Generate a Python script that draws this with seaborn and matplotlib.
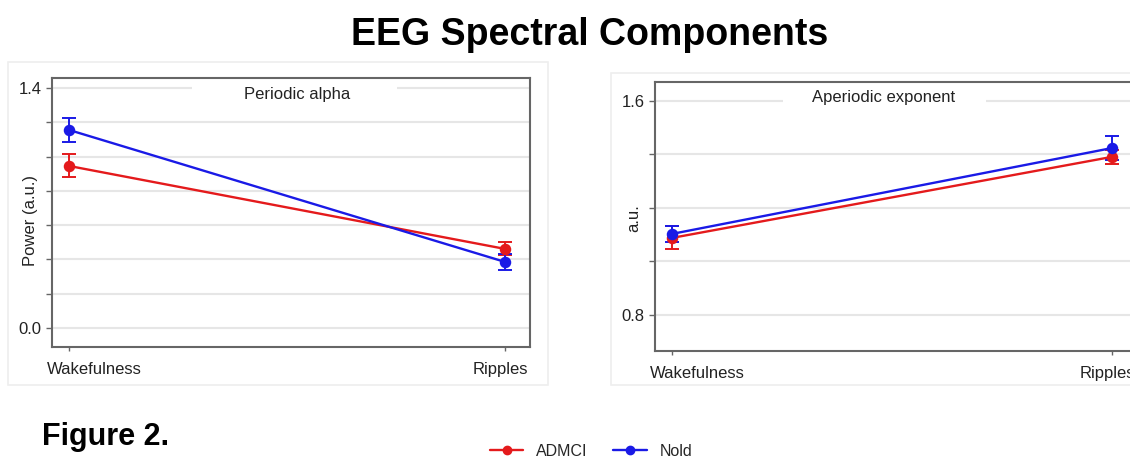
import matplotlib
matplotlib.use("Agg")
import matplotlib.pyplot as plt
import matplotlib.transforms as mtransforms
from matplotlib.lines import Line2D
from matplotlib.patches import Rectangle
import pandas as pd
import seaborn as sns

states = ["Wakefulness", "Ripples"]
groups = ["ADMCI", "Nold"]
colors = {"ADMCI": "#e41a1c", "Nold": "#1a1ae6"}

# periodic alpha power (a.u.), mean and error per state
alpha_admci = [0.945, 0.461]
alpha_admci_err = [0.067, 0.038]
alpha_nold = [1.155, 0.385]
alpha_nold_err = [0.070, 0.044]

# aperiodic exponent (a.u.)
aper_admci = [1.088, 1.391]
aper_admci_err = [0.043, 0.026]
aper_nold = [1.103, 1.424]
aper_nold_err = [0.030, 0.045]


def long_table(admci, nold):
    rows = []
    for g, vals in [("ADMCI", admci), ("Nold", nold)]:
        for s, v in zip(states, vals):
            rows.append({"state": s, "group": g, "value": v})
    return pd.DataFrame(rows)


sns.set_theme(style="white")
plt.rcParams["font.family"] = ["Liberation Sans", "DejaVu Sans"]

fig = plt.figure(figsize=(11.3, 4.62), dpi=100)
W, H = 1130, 462

# faint panel backgrounds
for x0, y0, x1, y1 in [(8, 62, 548, 385), (611, 73, 1140, 385)]:
    fig.patches.append(Rectangle((x0 / W, 1 - y1 / H), (x1 - x0) / W, (y1 - y0) / H,
                                 transform=fig.transFigure, facecolor="white",
                                 edgecolor="#eeeeee", lw=1.2, zorder=-1))

ax1 = fig.add_axes([52 / W, 1 - 347 / H, (530 - 52) / W, (347 - 78) / H])
ax2 = fig.add_axes([655 / W, 1 - 351 / H, (1137 - 655) / W, (351 - 82) / H])

panels = [
    (ax1, long_table(alpha_admci, alpha_nold), alpha_admci_err, alpha_nold_err,
     "Periodic alpha", "Power (a.u.)", (-0.111, 1.458), [0, 0.2, 0.4, 0.6, 0.8, 1.0, 1.2, 1.4],
     {0.0: "0.0", 1.4: "1.4"}, 0.512, (0.293, 0.722), 0.937, 0.472),
    (ax2, long_table(aper_admci, aper_nold), aper_admci_err, aper_nold_err,
     "Aperiodic exponent", "a.u.", (0.665, 1.671), [0.8, 1.0, 1.2, 1.4, 1.6],
     {0.8: "0.8", 1.6: "1.6"}, 0.475, (0.266, 0.687), 0.944, 0.494),
]

for ax, df, err_a, err_n, title, ylabel, ylim, yticks, ylabels, tx, gap, ty, ly in panels:
    ax.set_zorder(2)
    sns.pointplot(data=df, x="state", y="value", hue="group", order=states,
                  hue_order=groups, palette=colors, errorbar=None, markers="o",
                  markersize=7, linewidth=1.7, legend=False, ax=ax, zorder=3)
    for g, e in [("ADMCI", err_a), ("Nold", err_n)]:
        vals = df[df["group"] == g]["value"].values
        ax.errorbar(x=range(len(states)), y=vals, yerr=e, fmt="none",
                    ecolor=colors[g], elinewidth=1.4, capsize=5, capthick=1.4, zorder=2)

    ax.set_xlim(-0.039, 1.057)
    ax.set_ylim(*ylim)
    ax.set_yticks(yticks)
    ax.set_yticklabels([ylabels.get(round(t, 1), "") for t in yticks])
    ax.set_axisbelow(True)
    ax.yaxis.grid(True, color="#e6e6e6", lw=1.5)
    ax.xaxis.grid(False)
    for sp in ax.spines.values():
        sp.set_color("#666666")
        sp.set_linewidth(1.5)
    ax.tick_params(axis="both", which="both", direction="out", length=4, width=1,
                   color="#666666", labelsize=12, labelcolor="#222222", left=True, bottom=True)
    ax.tick_params(axis="x", length=3, pad=8)
    ax.set_xlabel("")
    ax.set_ylabel(ylabel, fontsize=12, color="#222222")
    ax.yaxis.set_label_coords(-0.029, ly)

    # push category labels toward the panel edges
    labs = ax.get_xticklabels()
    labs[0].set_horizontalalignment("left")
    labs[0].set_transform(labs[0].get_transform() +
                          mtransforms.ScaledTranslation(-0.22, 0, fig.dpi_scale_trans))
    labs[1].set_horizontalalignment("right")
    labs[1].set_transform(labs[1].get_transform() +
                          mtransforms.ScaledTranslation(0.23, 0, fig.dpi_scale_trans))

    ax.add_patch(Rectangle((gap[0], ty - 0.06), gap[1] - gap[0], 0.1,
                           transform=ax.transAxes, facecolor="white",
                           edgecolor="none", zorder=1))
    ax.text(tx, ty, title, transform=ax.transAxes, ha="center", va="center",
            fontsize=12, color="#222222", zorder=4)

fig.text(0.522, 0.924, "EEG Spectral Components", ha="center", va="center",
         fontsize=27, fontweight="bold", color="black")
fig.text(42 / W, 1 - 437 / H, "Figure 2.", ha="left", va="center",
         fontsize=22, fontweight="bold", color="black")

handles = [Line2D([0], [0], color=colors[g], lw=1.7, marker="o", markersize=6) for g in groups]
fig.legend(handles, groups, loc="center", bbox_to_anchor=(591 / W, 1 - 451 / H), ncol=2,
           frameon=False, fontsize=11.5, handlelength=2.1, handletextpad=0.8,
           columnspacing=1.6)

fig.savefig("out.png", dpi=100)
